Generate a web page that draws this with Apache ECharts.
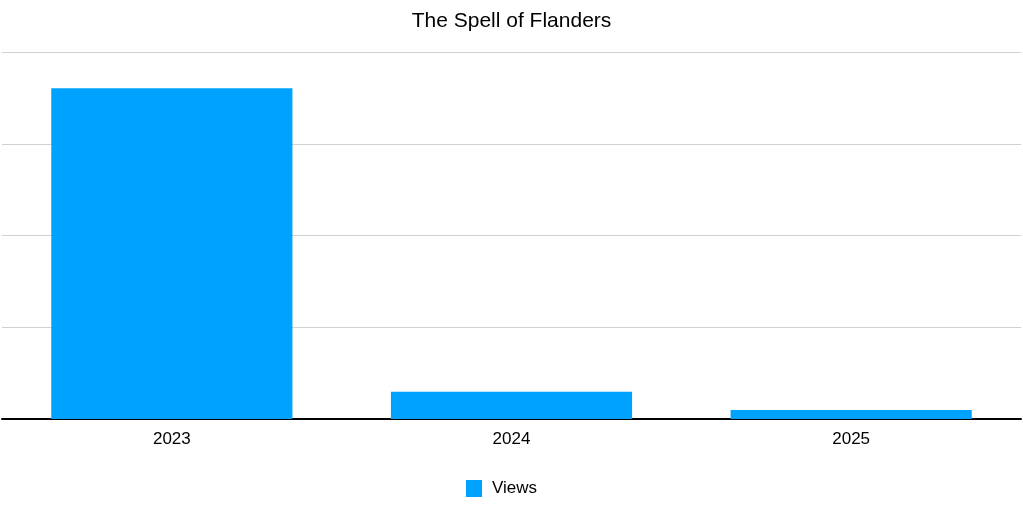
<!DOCTYPE html>
<html>
<head>
<meta charset="utf-8">
<script src="https://cdn.jsdelivr.net/npm/echarts@6/dist/echarts.min.js"></script>
<style>
  html, body { margin: 0; padding: 0; background: #fff; }
  #main { width: 1023px; height: 505px; }
</style>
</head>
<body>
<div id="main"></div>
<script>
// chart data
var years = ["2023", "2024", "2025"];
var views = [3605, 298, 98];

var myChart = echarts.init(document.getElementById("main"));
var option = {
  textStyle: { fontFamily: "Liberation Sans, Arial, sans-serif" },
  title: {
    text: "The Spell of Flanders",
    left: "center",
    top: 6,
    textStyle: { fontSize: 21, fontWeight: "normal", color: "#000" }
  },
  legend: {
    bottom: 3,
    left: 461,
    icon: "rect",
    itemWidth: 16,
    itemHeight: 17,
    itemGap: 10,
    textStyle: { fontSize: 17, color: "#000", padding: [0, 0, 0, 5] },
    data: ["Views"]
  },
  grid: {
    left: 2,
    right: 2,
    top: 52,
    bottom: 86,
    containLabel: false
  },
  xAxis: {
    type: "category",
    data: years,
    axisLine: { lineStyle: { color: "#000", width: 2 } },
    axisTick: { show: false },
    axisLabel: { fontSize: 17, color: "#000", margin: 12 }
  },
  yAxis: {
    type: "value",
    min: 0,
    max: 4000,
    interval: 1000,
    axisLabel: { show: false },
    axisLine: { show: false },
    axisTick: { show: false },
    splitLine: { lineStyle: { color: "#d0d0d0", width: 1 } }
  },
  series: [
    {
      name: "Views",
      type: "bar",
      data: views,
      barCategoryGap: "29%",
      itemStyle: { color: "#00a2ff" }
    }
  ]
};
myChart.setOption(option);
</script>
</body>
</html>
